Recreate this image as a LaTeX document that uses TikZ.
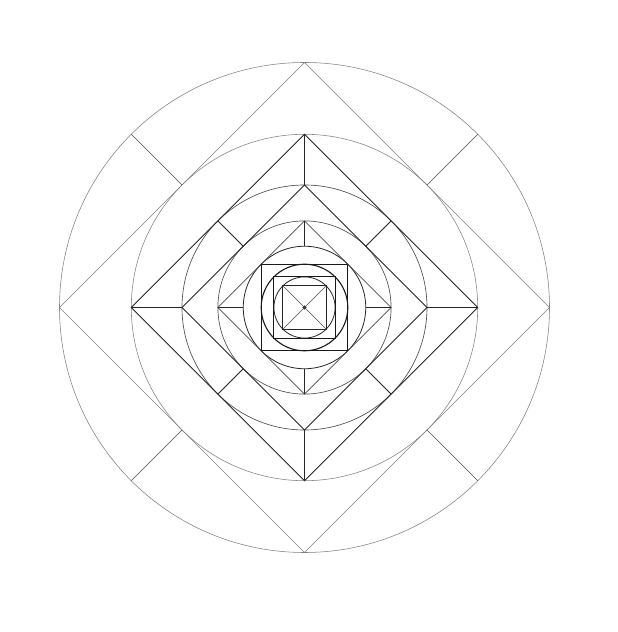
\documentclass[tikz,border=0pt]{standalone}
\usepackage{tikz}
\usetikzlibrary{calc}

\begin{document}
\begin{tikzpicture}[x=1pt,y=1pt,
		faint/.style={line width=0.55pt,draw=black!50},
		pencil/.style={line width=0.65pt,draw=black!70},
		ink/.style={line width=0.8pt,draw=black!85},
		heavy/.style={line width=1.1pt,draw=black!90}
		]
	\useasboundingbox (0,0) rectangle (618,632);
	\coordinate (O) at (304.5,324.5);
	% circles, each one the incircle of the figure around it
	\draw[faint] (O) circle (245);
	\draw[faint] (O) circle (173.2);
	\draw[pencil] (O) circle (122.5);
	\draw[pencil] (O) circle (86.6);
	\draw[ink] (O) circle (61.25);
	\draw[heavy] (O) circle (43.3);
	\draw[ink] (O) circle (30.6);
	\draw[ink] (O) circle (1.5);
	% diamonds
	\draw[faint] ($(O)+(245,0)$) -- ($(O)+(0,245)$) -- ($(O)+(-245,0)$) -- ($(O)+(0,-245)$) -- cycle;
	\draw[ink] ($(O)+(173.2,0)$) -- ($(O)+(0,173.2)$) -- ($(O)+(-173.2,0)$) -- ($(O)+(0,-173.2)$) -- cycle;
	\draw[ink] ($(O)+(122.5,0)$) -- ($(O)+(0,122.5)$) -- ($(O)+(-122.5,0)$) -- ($(O)+(0,-122.5)$) -- cycle;
	\draw[pencil] ($(O)+(86.6,0)$) -- ($(O)+(0,86.6)$) -- ($(O)+(-86.6,0)$) -- ($(O)+(0,-86.6)$) -- cycle;
	% squares
	\draw[heavy] ($(O)+(-43.3,-43.3)$) rectangle ($(O)+(43.3,43.3)$);
	\draw[heavy] ($(O)+(-30.6,-30.6)$) rectangle ($(O)+(30.6,30.6)$);
	\draw[ink] ($(O)+(-21.65,-21.65)$) coordinate (s1) rectangle ($(O)+(21.65,21.65)$) coordinate (s3);
	\coordinate (s2) at ($(O)+(21.65,-21.65)$);
	\coordinate (s4) at ($(O)+(-21.65,21.65)$);
	\draw[pencil] (s1) -- (s3);
	\draw[pencil] (s2) -- (s4);
	% spokes
	\foreach \a in {45,135,225,315}{
		\draw[pencil] ($(O)+(\a:245)$) -- ($(O)+(\a:173.2)$);
		\draw[ink] ($(O)+(\a:122.5)$) -- ($(O)+(\a:86.6)$);
	}
	\foreach \a in {0,90,180,270}{
		\draw[ink] ($(O)+(\a:173.2)$) -- ($(O)+(\a:122.5)$);
		\draw[ink] ($(O)+(\a:86.6)$) -- ($(O)+(\a:61.25)$);
	}
\end{tikzpicture}
\end{document}
